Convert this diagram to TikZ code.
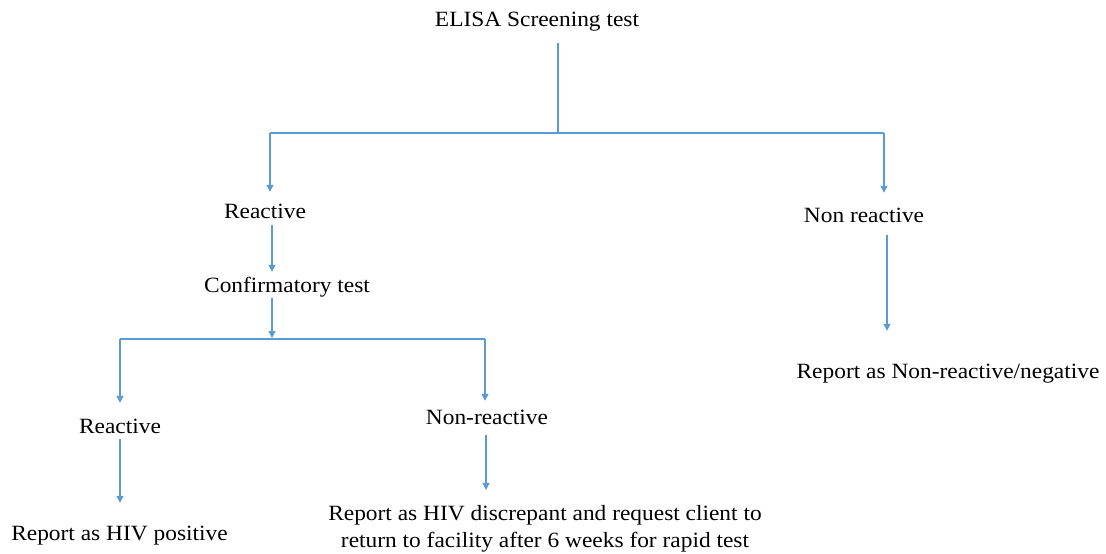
\documentclass[tikz,border=0pt]{standalone}
\usepackage{fontspec}
\setmainfont{Liberation Serif}
\usetikzlibrary{arrows.meta}
\definecolor{lineblue}{RGB}{91,155,213}
\newcommand{\sq}[1]{\scalebox{1}[0.93]{#1}}
\tikzset{
  lbl/.style={inner sep=0pt, anchor=base, text height=14pt, text depth=4pt,
    font=\fontsize{23.4}{29}\selectfont},
  ln/.style={draw=lineblue, line width=1.3pt},
  arr/.style={ln, -{Triangle[width=7pt,length=7pt]}}
}
\begin{document}
\begin{tikzpicture}[x=1pt,y=-1pt]
\useasboundingbox (0,0) rectangle (1106,554);
% nodes
\node[lbl] (elisa) at (537,26) {\sq{ELISA Screening test}};
\node[lbl] (react1) at (265,218) {\sq{Reactive}};
\node[lbl] (nonreact1) at (864,222) {\sq{Non reactive}};
\node[lbl] (confirm) at (287,292) {\sq{Confirmatory test}};
\node[lbl] (react2) at (120,433) {\sq{Reactive}};
\node[lbl] (nonreact2) at (487,424) {\sq{Non-reactive}};
\node[lbl] (positive) at (119.5,540) {\sq{Report as HIV positive}};
\node[lbl] (negative) at (948,378) {\sq{Report as Non-reactive/negative}};
\node[inner sep=0pt, anchor=north, font=\fontsize{23.4}{29}\selectfont] (discrep) at (545,501)
  {\sq{\begin{tabular}{@{}c@{}}Report as HIV discrepant and request client to\\ return to facility after 6 weeks for rapid test\end{tabular}}};
% junctions
\coordinate (j0) at (558,133);
\coordinate (jL) at (270,133);
\coordinate (jR) at (884,133);
\coordinate (j2) at (272,339);
\coordinate (j3L) at (120,339);
\coordinate (j3R) at (485,339);
\coordinate (jN) at (887,339);
\coordinate (jD) at (486,339);
% connectors
\draw[ln, shorten <=13pt] (elisa.south -| j0) -- (j0);
\draw[ln] (jL) -- (jR);
\draw[arr, shorten >=12pt] (jL) -- (react1.north -| jL);
\draw[arr, shorten >=15pt] (jR) -- (nonreact1.north -| jR);
\draw[arr, shorten <=3pt, shorten >=6pt] (react1.south -| j2) -- (confirm.north -| j2);
\draw[arr, shorten <=2pt, shorten >=1pt] (confirm.south -| j2) -- (j2);
\draw[ln] (j3L) -- (j3R);
\draw[arr, shorten >=16pt] (j3L) -- (react2.north -| j3L);
\draw[arr, shorten >=9pt] (j3R) -- (nonreact2.north -| j3R);
\draw[arr, shorten <=2pt, shorten >=23pt] (react2.south -| j3L) -- (positive.north -| j3L);
\draw[arr, shorten <=7pt, shorten >=11pt] (nonreact2.south -| jD) -- (discrep.north -| jD);
\draw[arr, shorten <=9pt, shorten >=33pt] (nonreact1.south -| jN) -- (negative.north -| jN);
\end{tikzpicture}
\end{document}
